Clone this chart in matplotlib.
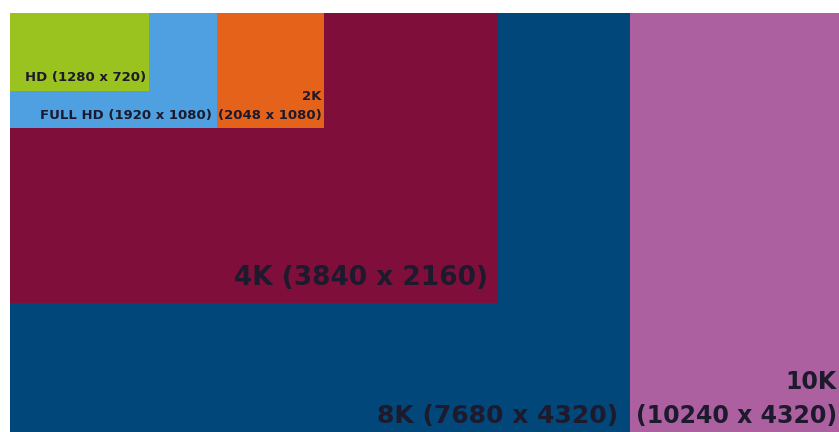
import matplotlib.pyplot as plt
from matplotlib.patches import Rectangle

# drawn box extents (pixel units, origin top-left)
# order: biggest first so the smaller ones sit on top
names = ['10K', '8K', '4K', '2K', 'FULL HD', 'HD']
resolutions = ['(10240 x 4320)', '(7680 x 4320)', '(3840 x 2160)',
               '(2048 x 1080)', '(1920 x 1080)', '(1280 x 720)']
box_right = [839, 630, 498, 324, 217, 149]
box_bottom = [440, 440, 303, 128, 128, 91]
colors = ['#ad60a0', '#02477a', '#7f0f3a', '#e5621a', '#4fa0e0', '#9bc31f']

box_left = 10
box_top = 13

W, H = 839, 432
fig = plt.figure(figsize=(W / 100, H / 100), dpi=100)
ax = fig.add_axes([0, 0, 1, 1])
ax.set_xlim(0, W)
ax.set_ylim(H, 0)
ax.axis('off')

for i in range(len(names)):
    ax.add_patch(Rectangle((box_left, box_top), box_right[i] - box_left,
                           box_bottom[i] - box_top, color=colors[i], lw=0))

txt = '#1c1a2c'
font = dict(family='DejaVu Sans', weight='bold', color=txt, ha='right', va='center')

# labels (two-line ones split name / resolution)
ax.text(837, 382, '10K', fontsize=17, **font)
ax.text(837, 416, resolutions[0], fontsize=17, **font)
ax.text(618, 416, names[1] + ' ' + resolutions[1], fontsize=18, **font)
ax.text(488, 278, names[2] + ' ' + resolutions[2], fontsize=19, **font)
ax.text(321, 97, '2K', fontsize=9.5, **font)
ax.text(322, 116, resolutions[3], fontsize=9.5, **font)
ax.text(212, 116, names[4] + ' ' + resolutions[4], fontsize=9.5, **font)
ax.text(146, 78, names[5] + ' ' + resolutions[5], fontsize=9.5, **font)

fig.savefig('out.png', dpi=100)
